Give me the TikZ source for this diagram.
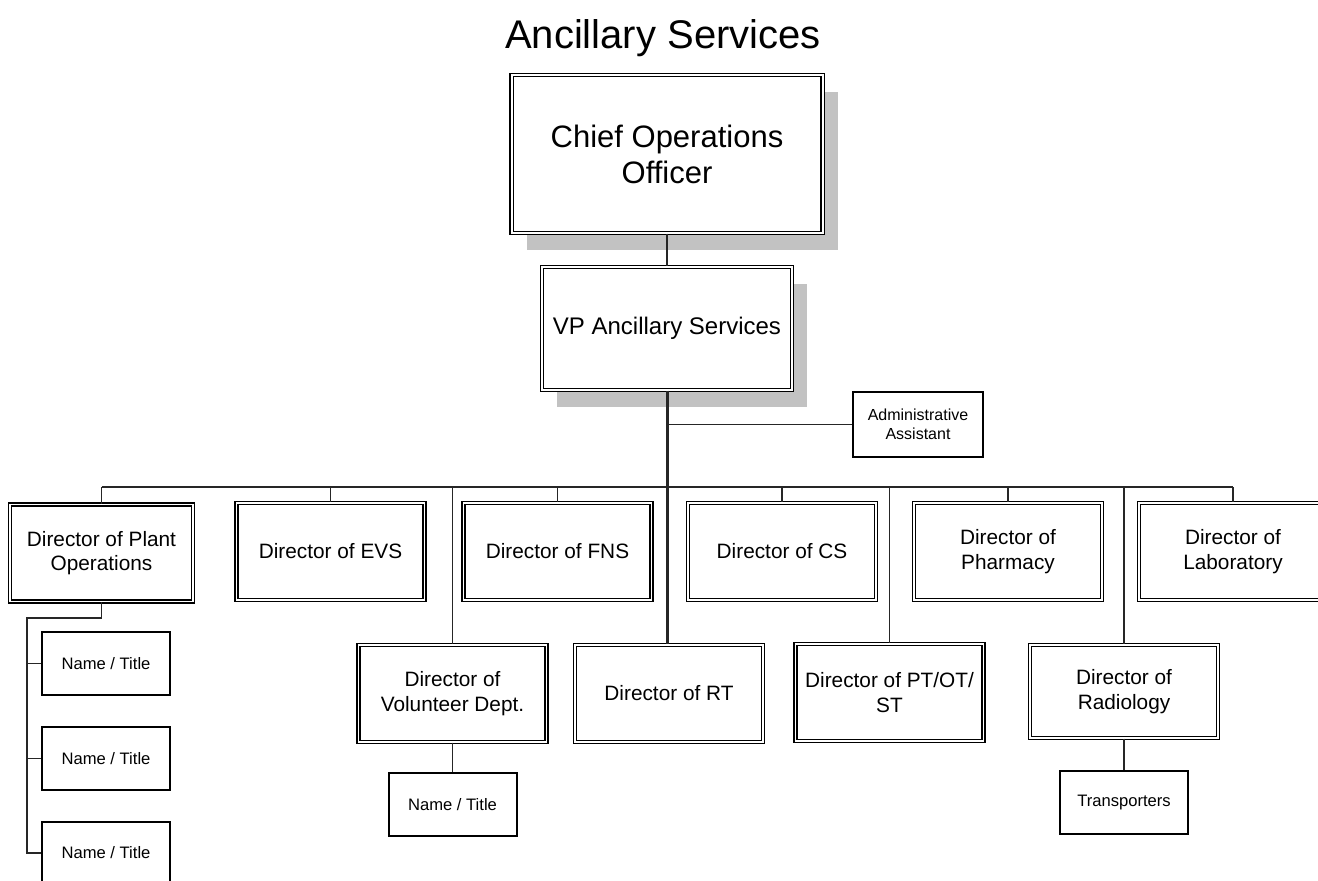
\documentclass[tikz,border=0pt]{standalone}
\usepackage{fontspec}
\setmainfont{Liberation Sans}
\usetikzlibrary{shadows}

\begin{document}
\begin{tikzpicture}[x=0.5pt,y=-0.5pt]
\tikzstyle{every node}+=[inner sep=0pt, align=center]
\tikzstyle{topbox}=[draw, double, line width=0.6pt, double distance=1pt, fill=white,
  drop shadow={shadow xshift=7.5pt, shadow yshift=-8.5pt, fill=black!24, opacity=1}]
\tikzstyle{dirbox}=[draw, double, line width=0.6pt, double distance=0.9pt, fill=white,
  minimum width=94pt, minimum height=48.5pt, font=\fontsize{10.4}{12.2}\selectfont]
\tikzstyle{namebox}=[draw, line width=1pt, fill=white,
  minimum width=64pt, minimum height=31.5pt, font=\fontsize{8.3}{10}\selectfont]
\tikzstyle{line}=[draw=black!85, line width=0.6pt]
\tikzstyle{trunk}=[draw=black!85, line width=1.5pt]
\useasboundingbox (0,0) rectangle (1318,880);
\clip (0,0) rectangle (1318,880);
% title
\node[font=\fontsize{20}{22}\selectfont] (title) at (663,38) {Ancillary Services};
% top of the chart
\node[topbox, minimum width=155.5pt, minimum height=79pt, font=\fontsize{15.5}{18}\selectfont] (coo) at (667,154) {Chief Operations\\Officer};
\node[topbox, minimum width=125pt, minimum height=61.5pt, font=\fontsize{12}{14}\selectfont] (vp) at (667,328.5) {VP Ancillary Services};
\node[namebox, minimum width=65pt, minimum height=32.5pt, font=\fontsize{8}{9.6}\selectfont] (admin) at (918,424.5) {Administrative\\Assistant};
% first row of directors
\node[dirbox, minimum width=91.5pt] (plant) at (101.5,553) {Director of Plant\\Operations};
\node[dirbox] (evs) at (330.5,551.5) {Director of EVS};
\node[dirbox] (fns) at (557.5,551.5) {Director of FNS};
\node[dirbox] (cs) at (782,551.5) {Director of CS};
\node[dirbox] (pharm) at (1008,551.5) {Director of\\Pharmacy};
\node[dirbox] (lab) at (1233,551.5) {Director of\\Laboratory};
% second row of directors
\node[dirbox] (vol) at (452.5,693.5) {Director of\\Volunteer Dept.};
\node[dirbox] (rt) at (669,693.5) {Director of RT};
\node[dirbox] (pt) at (889.5,692.5) {Director of PT/OT/\\ST};
\node[dirbox, minimum height=46.5pt] (rad) at (1124,691.5) {Director of\\Radiology};
% staff boxes
\node[namebox] (pn1) at (106,663.5) {Name / Title};
\node[namebox] (pn2) at (106,758.5) {Name / Title};
\node[namebox] (pn3) at (106,853) {Name / Title};
\node[namebox] (voln) at (452.5,804.5) {Name / Title};
\node[namebox] (trans) at (1124,802) {Transporters};
% connectors
\coordinate (bus) at (667,487);
\coordinate (spine) at (27,618);
\draw[line] (coo) -- (vp);
\draw[trunk] (vp.south) -- (vp.south |- rt.north);
\draw[line] (vp.south |- admin.west) -- (admin.west);
\draw[line] (plant.north |- bus) -- (lab.north |- bus);
\foreach \n in {plant,evs,fns,cs,pharm,lab,vol,pt,rad}
  \draw[line] (\n.north |- bus) -- (\n.north);
\draw[line] (plant.south) |- (spine) -- (spine |- pn3.west) -- (pn3.west);
\draw[line] (spine |- pn1.west) -- (pn1.west);
\draw[line] (spine |- pn2.west) -- (pn2.west);
\draw[line] (vol) -- (voln);
\draw[line] (rad) -- (trans);
\end{tikzpicture}
\end{document}
